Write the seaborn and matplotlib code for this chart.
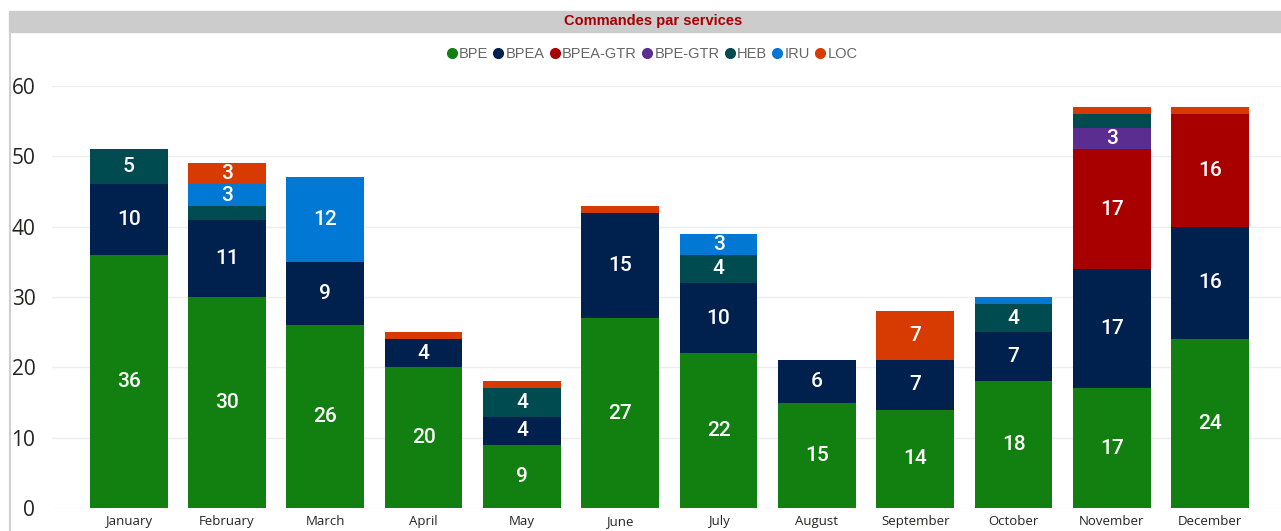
import seaborn as sns
import matplotlib.pyplot as plt
from matplotlib.patches import Rectangle
from matplotlib.lines import Line2D

months = ["January", "February", "March", "April", "May", "June", "July",
          "August", "September", "October", "November", "December"]
services = ["BPE", "BPEA", "BPEA-GTR", "BPE-GTR", "HEB", "IRU", "LOC"]
bpe = [36, 30, 26, 20, 9, 27, 22, 15, 14, 18, 17, 24]
bpea = [10, 11, 9, 4, 4, 15, 10, 6, 7, 7, 17, 16]
bpea_gtr = [0, 0, 0, 0, 0, 0, 0, 0, 0, 0, 17, 16]
bpe_gtr = [0, 0, 0, 0, 0, 0, 0, 0, 0, 0, 3, 0]
heb = [5, 2, 0, 0, 4, 0, 4, 0, 0, 4, 2, 0]
iru = [0, 3, 12, 0, 0, 0, 3, 0, 0, 1, 0, 0]
loc = [0, 3, 0, 1, 1, 1, 0, 0, 7, 0, 1, 1]
colors = ["#118011", "#00204E", "#A80000", "#5C2D91", "#004B50", "#0078D4", "#D83B01"]

series = [bpe, bpea, bpea_gtr, bpe_gtr, heb, iru, loc]

sns.set_theme(style="white")
plt.rcParams['font.family'] = ['Open Sans', 'DejaVu Sans']

fig = plt.figure(figsize=(12.81, 5.31), dpi=100)
ax = fig.add_axes([52 / 1281, 1 - 508 / 531, 1 - 52 / 1281, (508 - 86) / 531])

bottom = [0] * len(months)
for name, vals, col in zip(services, series, colors):
    sns.barplot(x=months, y=vals, bottom=bottom, color=col, width=0.79,
                saturation=1, ax=ax, edgecolor="none")
    bottom = [b + v for b, v in zip(bottom, vals)]

for cont in ax.containers:
    labels = [f"{int(round(p.get_height()))}" if p.get_height() >= 3 else "" for p in cont]
    ax.bar_label(cont, labels=labels, label_type="center", color="white",
                 fontsize=15, family="Roboto", fontweight="medium")

ax.set_xlim(-0.78, 11.72)
ax.set_ylim(0, 60)
ax.set_yticks(range(0, 61, 10))
ax.yaxis.grid(True, color="#EEEEEE", linewidth=1)
ax.set_axisbelow(True)
for s in ax.spines.values():
    s.set_visible(False)
ax.tick_params(axis="y", labelsize=15, colors="#252423", pad=12, length=0)
ax.tick_params(axis="x", labelsize=9.5, colors="#252423", pad=5, length=0)
ax.set_xlabel("")
ax.set_ylabel("")

# title bar
fig.patches.append(Rectangle((9 / 1281, 1 - 32 / 531), 1, 21 / 531,
                             transform=fig.transFigure, color="#CCCCCC", zorder=0))
fig.lines.append(Line2D([10 / 1281, 10 / 1281], [0, 1 - 32 / 531],
                        transform=fig.transFigure, color="#D0D0D0", linewidth=1.5))
fig.text(653 / 1281, 1 - 21.5 / 531, "Commandes par services", ha="center", va="center",
         color="#A80000", fontsize=10.5, fontweight="bold", family="Liberation Sans")

handles = [Line2D([], [], marker="o", linestyle="", markersize=7, color=c) for c in colors]
fig.legend(handles, services, loc="center", bbox_to_anchor=(651 / 1281, 1 - 54 / 531),
           ncol=7, frameon=False, handletextpad=0.0, columnspacing=0.2, handlelength=1.0,
           prop={"family": "Liberation Sans", "size": 10.5}, labelcolor="#666666")

fig.savefig("out.png", dpi=100)
